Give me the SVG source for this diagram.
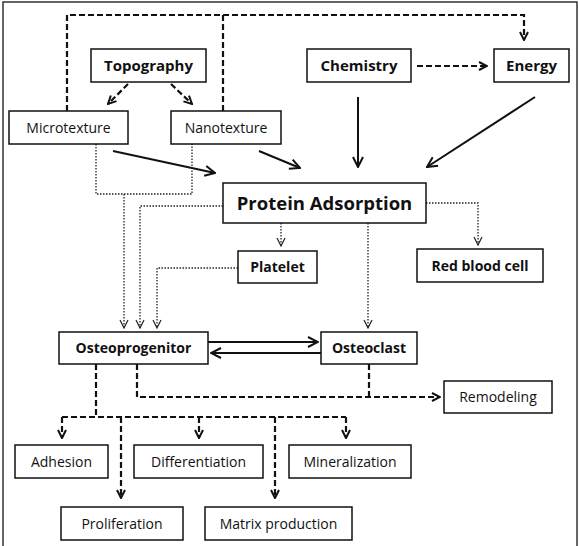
<svg xmlns="http://www.w3.org/2000/svg" width="579" height="546" viewBox="0 0 579 546">
<style>
.box{fill:#fff;stroke:#111;stroke-width:1.5}
.t{font-family:"Open Sans","Liberation Sans",sans-serif;font-size:14px;fill:#111;text-anchor:middle}
.b{font-weight:bold}
.solid{fill:none;stroke:#111;stroke-width:2}
.dash{fill:none;stroke:#111;stroke-width:2.2;stroke-dasharray:6,3}
.dot{fill:none;stroke:#222;stroke-width:1.3;stroke-dasharray:1.5,1.5}
</style>
<defs>
<marker id="aS" viewBox="0 0 12 12" refX="11" refY="6" markerWidth="12" markerHeight="12" markerUnits="userSpaceOnUse" orient="auto"><path d="M1,1 L11,6 L1,11" fill="none" stroke="#111" stroke-width="2"/></marker>
<marker id="aD" viewBox="0 0 10 10" refX="9" refY="5" markerWidth="10" markerHeight="10" markerUnits="userSpaceOnUse" orient="auto"><path d="M1,1 L9,5 L1,9" fill="none" stroke="#111" stroke-width="2"/></marker>
<marker id="aT" viewBox="0 0 10 10" refX="9" refY="5" markerWidth="10" markerHeight="10" markerUnits="userSpaceOnUse" orient="auto"><path d="M1,1 L9,5 L1,9" fill="none" stroke="#222" stroke-width="1.2"/></marker>
</defs>
<rect x="3" y="2" width="574" height="560" fill="#fff" stroke="#333" stroke-width="1.5"/>
<g id="connectors">
<path class="dash" d="M67,111 V15 H524 V40" marker-end="url(#aD)"/>
<path class="dash" d="M223,111 V15"/>
<path class="dash" d="M128,84 L108,104" marker-end="url(#aD)"/>
<path class="dash" d="M171,84 L192,104" marker-end="url(#aD)"/>
<path class="dash" d="M417,66 H487" marker-end="url(#aD)"/>
<path class="solid" d="M113,151 L215,173" marker-end="url(#aS)"/>
<path class="solid" d="M259,151 L300,168" marker-end="url(#aS)"/>
<path class="solid" d="M358,97 V167" marker-end="url(#aS)"/>
<path class="solid" d="M535,97 L427,167" marker-end="url(#aS)"/>
<path class="dot" d="M96,144 V194 H192 V144"/>
<path class="dot" d="M124,194 V328" marker-end="url(#aT)"/>
<path class="dot" d="M223,206 H140 V328" marker-end="url(#aT)"/>
<path class="dot" d="M238,268 H157 V328" marker-end="url(#aT)"/>
<path class="dot" d="M281,223 V246" marker-end="url(#aT)"/>
<path class="dot" d="M426,203 H478 V245" marker-end="url(#aT)"/>
<path class="dot" d="M368,223 V328" marker-end="url(#aT)"/>
<path class="solid" d="M208,342 H318" marker-end="url(#aS)"/>
<path class="solid" d="M321,353 H211" marker-end="url(#aS)"/>
<path class="dash" d="M96,364 V417"/>
<path class="dash" d="M62,417 H346"/>
<path class="dash" d="M62,417 V438" marker-end="url(#aD)"/>
<path class="dash" d="M199,417 V438" marker-end="url(#aD)"/>
<path class="dash" d="M346,417 V438" marker-end="url(#aD)"/>
<path class="dash" d="M121,417 V498" marker-end="url(#aD)"/>
<path class="dash" d="M275,417 V498" marker-end="url(#aD)"/>
<path class="dash" d="M137,364 V397 H440" marker-end="url(#aD)"/>
<path class="dash" d="M369,364 V397"/>
</g>
<g id="topography"><rect class="box" x="91" y="49" width="115" height="33"/><text class="t b" x="148.5" y="71" style="font-size:15px">Topography</text></g>
<g id="chemistry"><rect class="box" x="307" y="49" width="104" height="33"/><text class="t b" x="359" y="71" style="font-size:15px">Chemistry</text></g>
<g id="energy"><rect class="box" x="494" y="49" width="75" height="33"/><text class="t b" x="531.5" y="71" style="font-size:15px">Energy</text></g>
<g id="microtexture"><rect class="box" x="9" y="111" width="119" height="33"/><text class="t" x="68.5" y="132.5">Microtexture</text></g>
<g id="nanotexture"><rect class="box" x="171" y="111" width="110" height="33"/><text class="t" x="226" y="132.5">Nanotexture</text></g>
<g id="protein"><rect class="box" x="223" y="183" width="203" height="40"/><text class="t b" x="324.5" y="210" style="font-size:18.5px">Protein Adsorption</text></g>
<g id="platelet"><rect class="box" x="238" y="251" width="79" height="32"/><text class="t b" x="277.5" y="272">Platelet</text></g>
<g id="rbc"><rect class="box" x="417" y="249" width="126" height="33"/><text class="t b" x="480" y="270.5">Red blood cell</text></g>
<g id="osteoprogenitor"><rect class="box" x="59" y="332" width="149" height="32"/><text class="t b" x="133.5" y="353">Osteoprogenitor</text></g>
<g id="osteoclast"><rect class="box" x="321" y="332" width="96" height="32"/><text class="t b" x="369" y="353">Osteoclast</text></g>
<g id="remodeling"><rect class="box" x="444" y="381" width="108" height="32"/><text class="t" x="498" y="402">Remodeling</text></g>
<g id="adhesion"><rect class="box" x="15" y="445" width="93" height="33"/><text class="t" x="61.5" y="466.5">Adhesion</text></g>
<g id="differentiation"><rect class="box" x="134" y="445" width="129" height="33"/><text class="t" x="198.5" y="466.5">Differentiation</text></g>
<g id="mineralization"><rect class="box" x="289" y="445" width="122" height="33"/><text class="t" x="350" y="466.5">Mineralization</text></g>
<g id="proliferation"><rect class="box" x="61" y="507" width="122" height="33"/><text class="t" x="122" y="528.5">Proliferation</text></g>
<g id="matrix"><rect class="box" x="205" y="507" width="147" height="33"/><text class="t" x="278.5" y="528.5">Matrix production</text></g>
</svg>
